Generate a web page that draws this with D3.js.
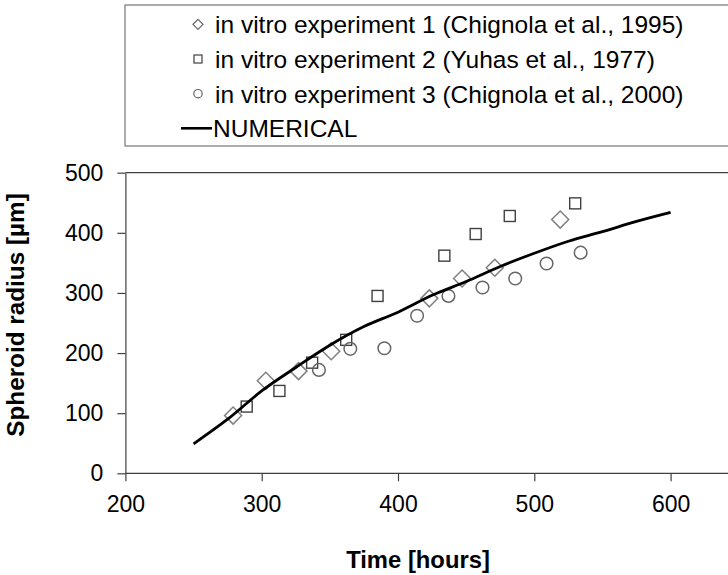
<!DOCTYPE html>
<html>
<head>
<meta charset="utf-8">
<script src="https://cdn.jsdelivr.net/npm/d3@7"></script>
<style>
  html, body { margin: 0; padding: 0; background: #fff; }
  svg { display: block; }
  text { font-family: "Liberation Sans", Arial, sans-serif; fill: #000; }
</style>
</head>
<body>
<svg id="chart" width="728" height="575"></svg>
<script>
// ---- data ----
const exp1X = [279, 303, 327, 351, 423, 447, 471, 519];
const exp1Y = [96, 154, 170, 203, 291, 324, 342, 422];
const exp2X = [289, 313, 337, 362, 385, 434, 457, 482, 530];
const exp2Y = [111, 137, 184, 222, 295, 362, 398, 428, 449];
const exp3X = [342, 365, 390, 414, 437, 462, 486, 509, 534];
const exp3Y = [172, 207, 208, 262, 295, 309, 324, 349, 367];
const numX = [250, 275, 300, 325, 350, 375, 400, 425, 450, 475, 500, 525, 550, 575, 600];
const numY = [49, 90, 137, 176, 213, 244, 268, 296, 319, 344, 366, 386, 402, 419, 434];
const xTicks = [200, 300, 400, 500, 600];
const yTicks = [0, 100, 200, 300, 400, 500];
const legendLabels = [
  "in vitro experiment 1 (Chignola et al., 1995)",
  "in vitro experiment 2 (Yuhas et al., 1977)",
  "in vitro experiment 3 (Chignola et al., 2000)",
  "NUMERICAL"
];
const xTitle = "Time [hours]";
const yTitle = "Spheroid radius [µm]";

// ---- layout ----
const svg = d3.select("#chart");
const plotLeft = 125.4, plotBottom = 473.3, plotTop = 172.7;
const x = d3.scaleLinear().domain([200, 700]).range([plotLeft, plotLeft + 500 * 1.363]);
const y = d3.scaleLinear().domain([0, 500]).range([plotBottom, plotTop]);

// top border of plot area
svg.append("line")
  .attr("x1", plotLeft).attr("x2", 800)
  .attr("y1", y(500)).attr("y2", y(500))
  .attr("stroke", "#404040").attr("stroke-width", 1.2);

// axes
const xAxis = svg.append("g")
  .attr("transform", `translate(0,${plotBottom})`)
  .call(d3.axisBottom(x).tickValues(xTicks).tickSize(8).tickSizeOuter(0).tickPadding(14));
const yAxis = svg.append("g")
  .attr("transform", `translate(${plotLeft},0)`)
  .call(d3.axisLeft(y).tickValues(yTicks).tickSize(8).tickSizeOuter(0).tickPadding(14));

[xAxis, yAxis].forEach(g => {
  g.select(".domain").attr("stroke", "#404040").attr("stroke-width", 1.2);
  g.selectAll(".tick line").attr("stroke", "#404040").attr("stroke-width", 1.2);
  g.selectAll(".tick text")
    .style("font-family", '"Liberation Sans", Arial, sans-serif')
    .style("font-size", "23px").attr("fill", "#000");
});
xAxis.select(".domain").attr("d", `M${plotLeft},0H800`);
xAxis.selectAll(".tick text").attr("dy", "0.71em");

// axis titles
svg.append("text")
  .attr("x", 418).attr("y", 568)
  .attr("text-anchor", "middle")
  .style("font-size", "23.8px").style("font-weight", "bold")
  .text(xTitle);
svg.append("text")
  .attr("transform", "translate(24,315) rotate(-90)")
  .attr("text-anchor", "middle")
  .style("font-size", "24.3px").style("font-weight", "bold")
  .text(yTitle);

// markers
const diamond = (cx, cy, r) => `M${cx},${cy - r}L${cx + r},${cy}L${cx},${cy + r}L${cx - r},${cy}Z`;
const plot = svg.append("g");

plot.selectAll(".d1").data(exp1X.map((v, i) => [v, exp1Y[i]])).join("path")
  .attr("d", d => diamond(x(d[0]), y(d[1]), 8.5))
  .attr("fill", "none").attr("stroke", "#808080").attr("stroke-width", 1.5);

plot.selectAll(".s2").data(exp2X.map((v, i) => [v, exp2Y[i]])).join("rect")
  .attr("x", d => x(d[0]) - 5.5).attr("y", d => y(d[1]) - 5.5)
  .attr("width", 11).attr("height", 11)
  .attr("fill", "none").attr("stroke", "#404040").attr("stroke-width", 1.4);

plot.selectAll(".c3").data(exp3X.map((v, i) => [v, exp3Y[i]])).join("circle")
  .attr("cx", d => x(d[0])).attr("cy", d => y(d[1])).attr("r", 6.3)
  .attr("fill", "none").attr("stroke", "#666666").attr("stroke-width", 1.5);

// numerical line
const line = d3.line().x(d => x(d[0])).y(d => y(d[1])).curve(d3.curveMonotoneX);
plot.append("path")
  .datum(numX.map((v, i) => [v, numY[i]]))
  .attr("d", line)
  .attr("fill", "none").attr("stroke", "#000").attr("stroke-width", 2.8);

// legend
const lg = svg.append("g");
lg.append("rect")
  .attr("x", 125).attr("y", 5).attr("width", 700).attr("height", 141)
  .attr("fill", "#fff").attr("stroke", "#808080").attr("stroke-width", 1.3);
const rowY = [24.3, 59, 93.7, 128.3];
lg.append("path").attr("d", diamond(198, rowY[0], 5))
  .attr("fill", "none").attr("stroke", "#666").attr("stroke-width", 1.2);
lg.append("rect").attr("x", 194).attr("y", rowY[1] - 4).attr("width", 8).attr("height", 8)
  .attr("fill", "none").attr("stroke", "#404040").attr("stroke-width", 1.2);
lg.append("circle").attr("cx", 198).attr("cy", rowY[2]).attr("r", 4.2)
  .attr("fill", "none").attr("stroke", "#666").attr("stroke-width", 1.2);
lg.append("line").attr("x1", 181).attr("x2", 212).attr("y1", rowY[3]).attr("y2", rowY[3])
  .attr("stroke", "#000").attr("stroke-width", 2.6);
legendLabels.forEach((t, i) => {
  lg.append("text")
    .attr("x", i < 3 ? 215 : 213).attr("y", rowY[i]).attr("dy", "0.36em")
    .style("font-size", "24.5px")
    .text(t);
});
</script>
</body>
</html>
